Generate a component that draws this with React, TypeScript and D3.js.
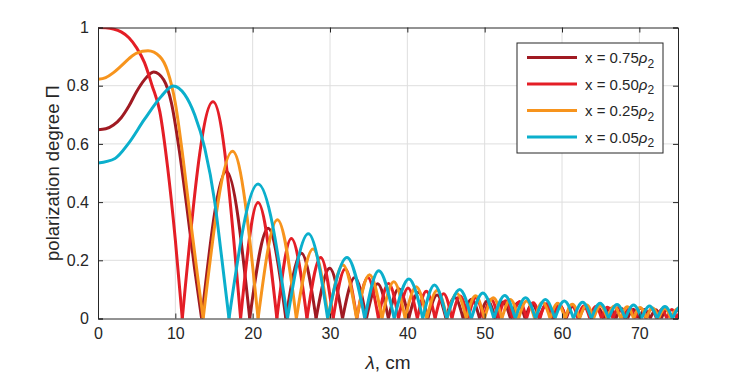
import { useEffect, useRef } from 'react';
import * as d3 from 'd3';

const WIDTH = 750;
const HEIGHT = 375;

const xTicks = [0, 10, 20, 30, 40, 50, 60, 70];
const yTicks = [0, 0.2, 0.4, 0.6, 0.8, 1];

const seriesNames = ['0.75', '0.50', '0.25', '0.05'];
const seriesColors = ['#A01A22', '#E41E26', '#F7941D', '#0BAFCC'];

// [lambda, polarization]; y = 0 marks a zero of the curve
const x075: [number, number][] = [
  [0, 0.649], [1, 0.652], [2, 0.665], [3, 0.69], [4, 0.73], [5, 0.78], [6, 0.82], [7.2, 0.847],
  [8.5, 0.82], [9.5, 0.74], [10.5, 0.58], [11.5, 0.38], [12.5, 0.17], [13.4, 0],
  [16.6, 0.506], [19.62, 0], [22.0, 0.31], [24.29, 0], [26.3, 0.224], [28.2, 0],
  [29.96, 0.173], [31.62, 0], [33.2, 0.141], [34.71, 0], [36.16, 0.119], [37.55, 0],
  [38.89, 0.102], [40.19, 0], [41.44, 0.09], [42.66, 0], [43.85, 0.081], [45.0, 0],
  [46.12, 0.073], [47.22, 0], [48.3, 0.066], [49.35, 0], [50.37, 0.061], [51.38, 0],
  [52.37, 0.057], [53.34, 0], [54.29, 0.053], [55.23, 0], [56.15, 0.049], [57.05, 0],
  [57.94, 0.046], [58.82, 0], [59.69, 0.044], [60.54, 0], [61.38, 0.041], [62.21, 0],
  [63.03, 0.039], [63.84, 0], [64.63, 0.037], [65.42, 0], [66.2, 0.035], [66.97, 0],
  [67.73, 0.034], [68.48, 0], [69.23, 0.032], [69.96, 0], [70.69, 0.031], [71.41, 0],
  [72.13, 0.03], [72.84, 0], [73.54, 0.029], [74.23, 0], [74.92, 0.028], [75.6, 0],
];

const x050: [number, number][] = [
  [0, 1], [1, 0.999], [2, 0.995], [3, 0.985], [4, 0.965], [5, 0.93], [6, 0.88], [7, 0.8],
  [8, 0.71], [9, 0.52], [10, 0.27], [10.9, 0],
  [14.87, 0.745], [18.44, 0], [20.69, 0.399], [23.13, 0], [25.0, 0.275], [27.02, 0],
  [28.8, 0.21], [30.41, 0], [31.97, 0.17], [33.47, 0], [34.89, 0.141], [36.26, 0],
  [37.58, 0.12], [38.86, 0], [40.09, 0.105], [41.29, 0], [42.45, 0.094], [43.59, 0],
  [44.69, 0.085], [45.77, 0], [46.82, 0.077], [47.85, 0], [48.86, 0.071], [49.85, 0],
  [50.82, 0.066], [51.77, 0], [52.7, 0.061], [53.62, 0], [54.52, 0.058], [55.41, 0],
  [56.28, 0.054], [57.14, 0], [57.99, 0.051], [58.82, 0], [59.65, 0.048], [60.46, 0],
  [61.26, 0.046], [62.05, 0], [62.83, 0.043], [63.6, 0], [64.37, 0.041], [65.12, 0],
  [65.87, 0.039], [66.6, 0], [67.33, 0.038], [68.04, 0], [68.76, 0.036], [69.46, 0],
  [70.16, 0.035], [70.85, 0], [71.54, 0.033], [72.22, 0], [72.89, 0.032], [73.55, 0],
  [74.21, 0.031], [74.87, 0], [75.5, 0.03], [76.16, 0],
];

const x025: [number, number][] = [
  [0, 0.822], [1, 0.828], [2, 0.845], [3, 0.868], [4, 0.893], [5, 0.912], [6.47, 0.92],
  [8, 0.9], [9, 0.85], [10, 0.74], [11, 0.55], [12, 0.33], [13, 0.12], [13.6, 0],
  [17.4, 0.575], [20.7, 0], [23.2, 0.339], [25.65, 0], [27.8, 0.239], [29.8, 0],
  [31.67, 0.184], [33.44, 0], [35.11, 0.15], [36.72, 0], [38.25, 0.126], [39.72, 0],
  [41.15, 0.109], [42.52, 0], [43.85, 0.096], [45.14, 0], [46.4, 0.086], [47.62, 0],
  [48.82, 0.078], [49.98, 0], [51.12, 0.071], [52.23, 0], [53.32, 0.065], [54.39, 0],
  [55.43, 0.06], [56.46, 0], [57.47, 0.056], [58.46, 0], [59.44, 0.052], [60.4, 0],
  [61.34, 0.049], [62.27, 0], [63.19, 0.046], [64.09, 0], [64.98, 0.044], [65.86, 0],
  [66.73, 0.042], [67.59, 0], [68.43, 0.04], [69.27, 0], [70.09, 0.038], [70.91, 0],
  [71.72, 0.036], [72.51, 0], [73.3, 0.034], [74.08, 0], [74.85, 0.033], [75.62, 0],
];

const x005: [number, number][] = [
  [0, 0.534], [2.2, 0.55], [3.9, 0.6], [6, 0.684], [8.2, 0.764], [9.7, 0.799], [11.2, 0.77],
  [12.5, 0.7], [13.8, 0.586], [15.1, 0.4], [15.9, 0.23], [16.94, 0],
  [20.7, 0.462], [24.5, 0], [27.2, 0.291], [29.7, 0], [32.2, 0.21], [34.5, 0],
  [36.3, 0.164], [38.3, 0], [40.2, 0.136], [42.0, 0], [43.5, 0.115], [45.1, 0],
  [46.77, 0.1], [48.29, 0], [49.77, 0.088], [51.2, 0], [52.6, 0.079], [53.96, 0],
  [55.29, 0.071], [56.58, 0], [57.85, 0.065], [59.09, 0], [60.3, 0.06], [61.49, 0],
  [62.66, 0.056], [63.8, 0], [64.92, 0.052], [66.03, 0], [67.12, 0.048], [68.19, 0],
  [69.25, 0.046], [70.29, 0], [71.31, 0.043], [72.31, 0], [73.31, 0.041], [74.29, 0],
  [75.26, 0.039], [76.22, 0],
];

const allSeries = [x075, x050, x025, x005];

// split a series into lobes so the zeros stay sharp cusps
const toLobes = (pts: [number, number][]) => {
  const lobes: [number, number][][] = [];
  let cur: [number, number][] = [];
  pts.forEach((p) => {
    cur.push(p);
    if (p[1] === 0 && cur.length > 1) {
      lobes.push(cur);
      cur = [p];
    }
  });
  if (cur.length > 1) lobes.push(cur);
  return lobes;
};

const App = () => {
  const svgRef = useRef<SVGSVGElement>(null);

  useEffect(() => {
    const svg = d3.select(svgRef.current);
    svg.selectAll('*').remove();

    const margin = { top: 27.5, right: 72, bottom: 56.5, left: 98 };
    const width = WIDTH - margin.left - margin.right;
    const height = HEIGHT - margin.top - margin.bottom;
    const font = 'Arimo, "Liberation Sans", Arial, Helvetica, sans-serif';
    const ink = '#262626';

    const x = d3.scaleLinear().domain([0, 75]).range([0, width]);
    const y = d3.scaleLinear().domain([0, 1]).range([height, 0]);

    const g = svg.append('g').attr('transform', `translate(${margin.left},${margin.top})`);

    svg.append('defs').append('clipPath').attr('id', 'plot-clip')
      .append('rect').attr('width', width).attr('height', height);

    // grid
    g.append('g').selectAll('line').data(xTicks.filter((t) => t > 0)).join('line')
      .attr('x1', (d) => x(d)).attr('x2', (d) => x(d)).attr('y1', 0).attr('y2', height)
      .attr('stroke', '#dedede').attr('stroke-width', 1);
    g.append('g').selectAll('line').data(yTicks.filter((t) => t > 0 && t < 1)).join('line')
      .attr('y1', (d) => y(d)).attr('y2', (d) => y(d)).attr('x1', 0).attr('x2', width)
      .attr('stroke', '#dedede').attr('stroke-width', 1);

    // curves
    const line = d3.line<[number, number]>()
      .x((d) => x(d[0]))
      .y((d) => y(d[1]))
      .curve(d3.curveMonotoneX);

    const curves = g.append('g').attr('clip-path', 'url(#plot-clip)');
    allSeries.forEach((s, i) => {
      curves.append('g').selectAll('path').data(toLobes(s)).join('path')
        .attr('d', line)
        .attr('fill', 'none')
        .attr('stroke', seriesColors[i])
        .attr('stroke-width', 3)
        .attr('stroke-linejoin', 'round');
    });

    // axes, MATLAB style with inward ticks and a box
    const xAxis = g.append('g').attr('transform', `translate(0,${height})`)
      .call(d3.axisBottom(x).tickValues(xTicks).tickSize(-5).tickPadding(9).tickFormat(d3.format('d')));
    const xTop = g.append('g').call(d3.axisTop(x).tickValues(xTicks).tickSize(-5).tickFormat(() => ''));
    const yAxis = g.append('g')
      .call(d3.axisLeft(y).tickValues(yTicks).tickSize(-5).tickPadding(9).tickFormat((d) => d3.format('')(+d)));
    const yRight = g.append('g').attr('transform', `translate(${width},0)`)
      .call(d3.axisRight(y).tickValues(yTicks).tickSize(-5).tickFormat(() => ''));

    [xAxis, xTop, yAxis, yRight].forEach((a) => {
      a.select('.domain').attr('stroke', ink).attr('stroke-width', 1);
      a.selectAll('.tick line').attr('stroke', ink);
      a.selectAll('.tick text').attr('fill', ink).attr('font-size', 16).attr('font-family', font);
    });

    // axis labels
    const xl = svg.append('text')
      .attr('x', margin.left + width / 2).attr('y', 369)
      .attr('text-anchor', 'middle').attr('font-family', font).attr('font-size', 19).attr('fill', ink);
    xl.append('tspan').attr('font-style', 'italic').text('λ');
    xl.append('tspan').text(', cm');

    svg.append('text')
      .attr('transform', `translate(59,${margin.top + height / 2}) rotate(-90)`)
      .attr('text-anchor', 'middle').attr('font-family', font).attr('font-size', 18.5).attr('fill', ink)
      .text('polarization degree Π');

    // legend
    const leg = svg.append('g').attr('transform', 'translate(517,43)');
    leg.append('rect').attr('width', 146).attr('height', 110)
      .attr('fill', '#fff').attr('stroke', ink).attr('stroke-width', 1);
    seriesNames.forEach((name, i) => {
      const row = leg.append('g').attr('transform', `translate(0,${14.5 + i * 26.5})`);
      row.append('line').attr('x1', 10).attr('x2', 60).attr('y1', 0).attr('y2', 0)
        .attr('stroke', seriesColors[i]).attr('stroke-width', 3);
      const t = row.append('text').attr('x', 68).attr('y', 5.5)
        .attr('font-family', font).attr('font-size', 15).attr('fill', ink);
      t.append('tspan').text(`x = ${name}`);
      t.append('tspan').attr('font-style', 'italic').text('ρ');
      t.append('tspan').attr('font-size', 12).attr('dy', 4.5).text('2');
    });
  }, []);

  return (
    <svg ref={svgRef} width={WIDTH} height={HEIGHT}
      style={{ position: 'absolute', left: 0, top: 0, background: '#fff' }} />
  );
};

export default App;
